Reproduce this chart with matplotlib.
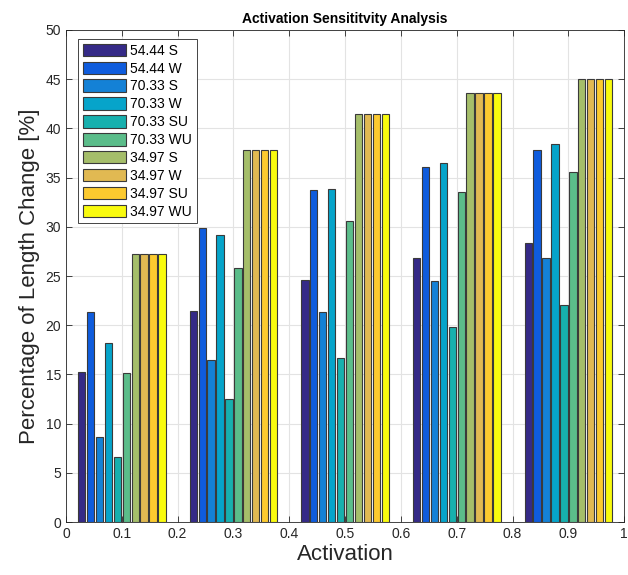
import numpy as np
import matplotlib
matplotlib.use("Agg")
import matplotlib.pyplot as plt

plt.rcParams['font.family'] = ['Liberation Sans', 'DejaVu Sans']

# Data
activation = [0.1, 0.3, 0.5, 0.7, 0.9]
s5444 = [15.2, 21.4, 24.6, 26.8, 28.4]
w5444 = [21.3, 29.9, 33.7, 36.1, 37.8]
s7033 = [8.6, 16.5, 21.3, 24.5, 26.8]
w7033 = [18.2, 29.2, 33.8, 36.5, 38.4]
su7033 = [6.6, 12.5, 16.7, 19.8, 22.1]
wu7033 = [15.1, 25.8, 30.6, 33.5, 35.6]
s3497 = [27.2, 37.8, 41.5, 43.6, 45.0]
w3497 = [27.2, 37.8, 41.5, 43.6, 45.0]
su3497 = [27.2, 37.8, 41.5, 43.6, 45.0]
wu3497 = [27.2, 37.8, 41.5, 43.6, 45.0]

series = [s5444, w5444, s7033, w7033, su7033, wu7033, s3497, w3497, su3497, wu3497]
labels = ['54.44 S', '54.44 W', '70.33 S', '70.33 W', '70.33 SU',
          '70.33 WU', '34.97 S', '34.97 W', '34.97 SU', '34.97 WU']

# parula-like colours
colors = ['#352a87', '#0f5cdd', '#1481d6', '#06a4ca', '#17b0ae',
          '#5bbd8a', '#a5be6a', '#e1b952', '#fcca2f', '#f9fb0e']

fig = plt.figure(figsize=(6.28, 5.75), dpi=100)
ax = fig.add_axes([0.105, 0.092, 0.889, 0.856])

# MATLAB-style grouped bars: group width 0.8 of the spacing (0.2)
n = len(series)
slot = 0.8 * 0.2 / n
x = np.array(activation)
for i, (vals, lab, col) in enumerate(zip(series, labels, colors)):
    offs = (i - (n - 1) / 2) * slot
    ax.bar(x + offs, vals, width=slot * 0.82, color=col, edgecolor='#3a3a3a',
           linewidth=0.8, label=lab, zorder=3)

ax.set_xlim(0, 1)
ax.set_ylim(0, 50)
ax.set_xticks(np.arange(0, 1.01, 0.1))
ax.set_xticklabels(['0', '0.1', '0.2', '0.3', '0.4', '0.5', '0.6', '0.7', '0.8', '0.9', '1'])
ax.set_yticks(np.arange(0, 51, 5))
ax.tick_params(direction='in', top=True, right=True, length=4, labelsize=10,
               color='#262626', labelcolor='#262626', width=0.6)
ax.grid(True, color='#e3e3e3', linewidth=0.8, zorder=0)
for sp in ax.spines.values():
    sp.set_color('#262626')
    sp.set_linewidth(0.6)

ax.set_title('Activation Sensititvity Analysis', fontsize=10, fontweight='bold', pad=5)
ax.set_xlabel('Activation', fontsize=16, color='#262626', labelpad=2)
ax.set_ylabel('Percentage of Length Change [%]', fontsize=16, color='#262626', labelpad=4)

leg = ax.legend(loc='upper left', bbox_to_anchor=(0.0215, 0.982), borderaxespad=0,
                fontsize=10, handlelength=3.1, handleheight=1.0, labelspacing=0.28,
                handletextpad=0.3, borderpad=0.35, fancybox=False, framealpha=1,
                edgecolor='#262626')
leg.get_frame().set_linewidth(0.6)
leg.set_zorder(5)

fig.savefig('out.png', dpi=100)
